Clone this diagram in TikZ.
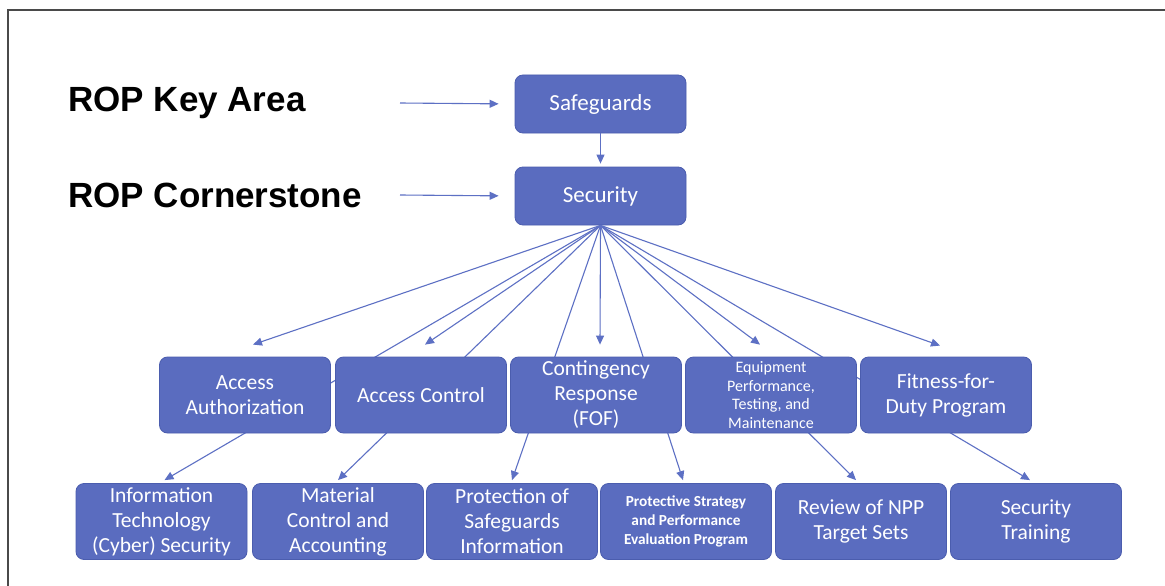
\documentclass[tikz,border=0pt]{standalone}
\usepackage{fontspec}
\setmainfont{Carlito}
\newfontfamily\arialfont{Liberation Sans}
\usetikzlibrary{arrows.meta,calc}
\definecolor{boxblue}{HTML}{5A6CBF}
\definecolor{boxedge}{HTML}{4B5DAE}
\definecolor{arrowblue}{HTML}{5D70C4}
\definecolor{framegray}{HTML}{4A4A4A}
\begin{document}
\begin{tikzpicture}[x=1pt,y=-1pt,
  box/.style={draw=boxedge, line width=0.8pt, fill=boxblue, rounded corners=8pt,
    minimum width=171pt, minimum height=76pt, text=white, align=center, inner sep=1pt,
    font=\fontsize{21.5}{25}\selectfont},
  topbox/.style={box, minimum height=58pt, font=\fontsize{23}{27}\selectfont},
  smallbox/.style={box, font=\fontsize{16}{18.5}\selectfont},
  smallboldbox/.style={box, font=\bfseries\fontsize{15.3}{19}\selectfont},
  lbl/.style={anchor=west, inner sep=0pt, font=\arialfont\bfseries\fontsize{35}{40}\selectfont},
  arr/.style={draw=arrowblue, line width=1.1pt, -{Triangle[length=9pt,width=8pt]}}
]
\useasboundingbox (0,0) rectangle (1165,586);
\fill[white] (0,0) rectangle (1165,586);
% frame
\coordinate (fa) at (1165,10);
\coordinate (fb) at (8,10);
\coordinate (fc) at (8,586);
\draw[framegray, line width=1.6pt] (fa) -- (fb) -- (fc);

% labels
\node[lbl] (keyarea) at (68,103) {ROP Key Area};
\node[lbl] (corner) at (68,195) {ROP Cornerstone};
\coordinate (k1) at (400,103);
\coordinate (k2) at (400,195);

% top boxes
\node[topbox] (safe) at (600.5,104) {Safeguards};
\node[topbox] (sec) at (600.5,196) {Security};

\draw[arr, shorten >=16pt] (k1) -- (safe.west);
\draw[arr, shorten >=16pt] (k2) -- (sec.west);
\draw[arr, shorten >=3pt] (safe.south) -- (sec.north);

% level 3 boxes
\node[box] (it) at (161.5,521.5) {Information\\Technology\\(Cyber) Security};
\node[box] (mca) at (338,521.5) {Material\\Control and\\Accounting};
\node[box] (psi) at (512,521.5) {Protection of\\Safeguards\\Information};
\node[smallboldbox] (pse) at (686,521.5) {Protective Strategy\\and Performance\\Evaluation Program};
\node[box] (npp) at (861,521.5) {Review of NPP\\Target Sets};
\node[box] (trn) at (1036,521.5) {Security\\Training};

% lines from Security to level 3 (pass behind level 2)
\draw[arr] (sec.south) -- ($(it.north)+(3,-3)$);
\draw[arr] (sec.south) -- ($(mca.north)+(0,-3)$);
\draw[arr] (sec.south) -- ($(psi.north)+(0,-3)$);
\draw[arr] (sec.south) -- ($(pse.north)+(-3,-3)$);
\draw[arr] (sec.south) -- ($(npp.north)+(-5,-3)$);
\draw[arr] (sec.south) -- ($(trn.north)+(-6,-3)$);

% level 2 boxes
\node[box] (aa) at (245,395) {Access\\Authorization};
\node[box] (ac) at (421,395) {Access Control};
\node[box] (cr) at (596,395) {Contingency\\Response\\(FOF)};
\node[smallbox] (ept) at (771,395) {Equipment\\Performance,\\Testing, and\\Maintenance};
\node[box] (ffd) at (946,395) {Fitness-for-\\Duty Program};

% arrows from Security to level 2
\draw[arr] (sec.south) -- ($(aa.north)+(8,-12)$);
\draw[arr] (sec.south) -- ($(ac.north)+(4,-12)$);
\draw[arr] (sec.south) -- ($(cr.north)+(4,-12)$);
\draw[arr] (sec.south) -- ($(ept.north)+(-11,-12)$);
\draw[arr] (sec.south) -- ($(ffd.north)+(-6,-11)$);
\end{tikzpicture}
\end{document}
